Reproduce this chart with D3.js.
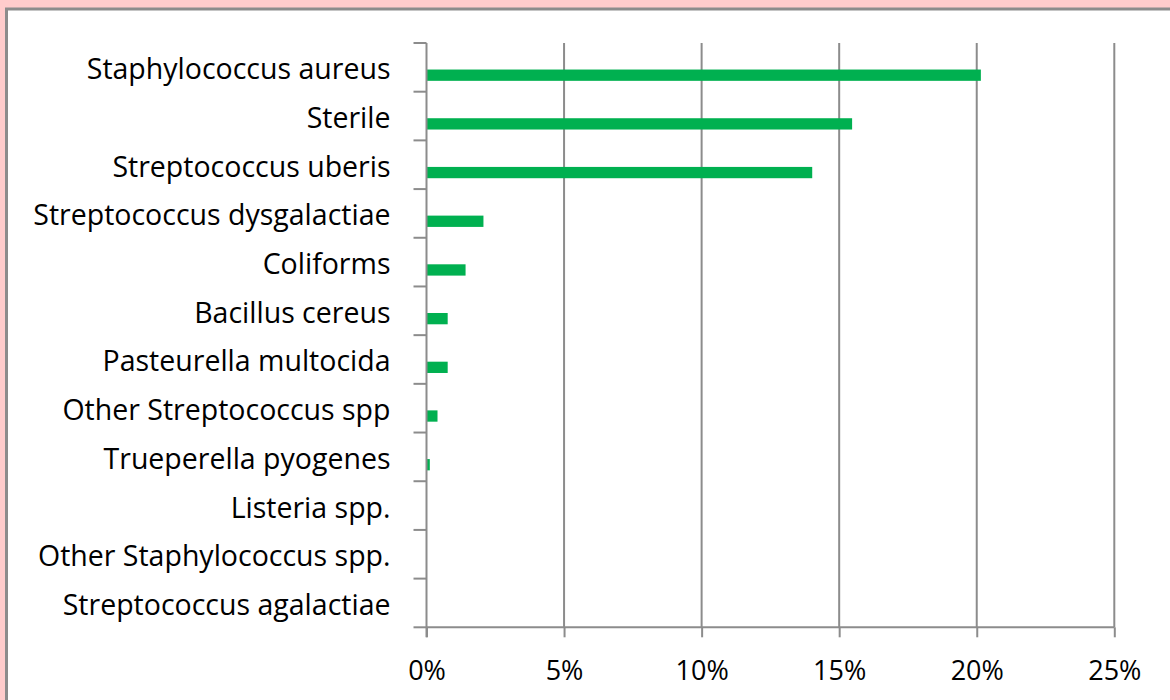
<!DOCTYPE html>
<html>
<head>
<meta charset="utf-8">
<script src="https://cdn.jsdelivr.net/npm/d3@7"></script>
<style>
  body { margin: 0; background: #ffcccc; }
  svg { display: block; }
</style>
</head>
<body>
<div id="chart"></div>
<script>
var organisms = ["Staphylococcus aureus", "Sterile", "Streptococcus uberis", "Streptococcus dysgalactiae",
  "Coliforms", "Bacillus cereus", "Pasteurella multocida", "Other Streptococcus spp",
  "Trueperella pyogenes", "Listeria spp.", "Other Staphylococcus spp.", "Streptococcus agalactiae"];
var shares = [0.2015, 0.1547, 0.1402, 0.0207, 0.0142, 0.0077, 0.0077, 0.0040, 0.0012, 0, 0, 0];
var xTicks = [0, 0.05, 0.10, 0.15, 0.20, 0.25];

var w = 1170, h = 700;
var plotLeft = 426.5, plotRight = 1114.3, plotTop = 43, plotBottom = 627.3;

var svg = d3.select("#chart").append("svg")
  .attr("width", w)
  .attr("height", h);

// plot area frame
svg.append("rect")
  .attr("x", 6.5).attr("y", 9)
  .attr("width", w + 20).attr("height", h + 20)
  .attr("fill", "#ffffff")
  .attr("stroke", "#8c8c8c")
  .attr("stroke-width", 3);

var x = d3.scaleLinear().domain([0, 0.25]).range([plotLeft, plotRight]);
var y = d3.scaleBand().domain(organisms).range([plotTop, plotBottom]).paddingInner(0).paddingOuter(0);

var gridColor = "#8c8c8c";

// vertical gridlines
svg.append("g")
  .selectAll("line")
  .data(xTicks.slice(1))
  .enter().append("line")
    .attr("x1", function(d) { return x(d); })
    .attr("x2", function(d) { return x(d); })
    .attr("y1", plotTop)
    .attr("y2", plotBottom)
    .attr("stroke", gridColor)
    .attr("stroke-width", 2);

// bars
svg.append("g")
  .selectAll("rect")
  .data(shares)
  .enter().append("rect")
    .attr("x", x(0))
    .attr("y", function(d, i) { return y(organisms[i]) + y.bandwidth() * 0.545; })
    .attr("width", function(d) { return x(d) - x(0); })
    .attr("height", y.bandwidth() * 0.232)
    .attr("fill", "#00b050");

// x axis
var xAxis = svg.append("g")
  .attr("transform", "translate(0," + plotBottom + ")")
  .call(d3.axisBottom(x)
    .tickValues(xTicks)
    .tickSize(10)
    .tickPadding(24)
    .tickFormat(d3.format(".0%")));

// y axis
var yAxis = svg.append("g")
  .attr("transform", "translate(" + plotLeft + ",0)")
  .call(d3.axisLeft(y).tickSize(0).tickPadding(36));

// category separators (ticks between bands)
yAxis.append("g")
  .selectAll("line")
  .data(d3.range(organisms.length + 1))
  .enter().append("line")
    .attr("x1", -13)
    .attr("x2", 0)
    .attr("y1", function(i) { return plotTop + i * y.bandwidth(); })
    .attr("y2", function(i) { return plotTop + i * y.bandwidth(); })
    .attr("stroke", gridColor)
    .attr("stroke-width", 2);

[xAxis, yAxis].forEach(function(g) {
  g.selectAll(".domain").attr("stroke", gridColor).attr("stroke-width", 2);
  g.selectAll(".tick line").attr("stroke", gridColor).attr("stroke-width", 2);
  g.selectAll("text")
    .attr("fill", "#000")
    .attr("font-family", "'Open Sans', Lato, sans-serif");
});
xAxis.selectAll("text").attr("font-size", 27);
yAxis.selectAll("text").attr("font-size", 28.5);
xAxis.select(".domain").attr("d", "M" + plotLeft + ",0H" + plotRight);
yAxis.select(".domain").attr("d", "M0," + plotTop + "V" + (plotBottom + 10));
yAxis.selectAll(".tick text").attr("dy", "0.42em");
</script>
</body>
</html>
